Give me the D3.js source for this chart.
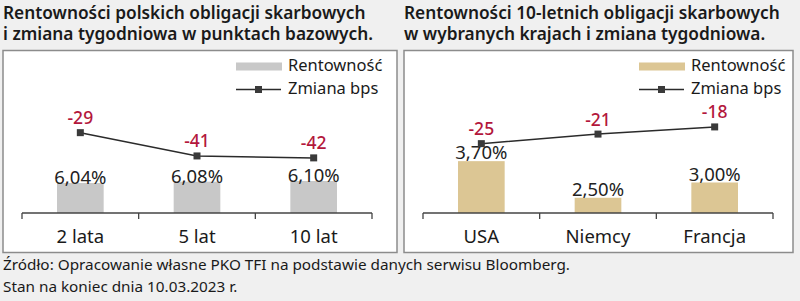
<!DOCTYPE html>
<html>
<head>
<meta charset="utf-8">
<script src="https://cdn.jsdelivr.net/npm/d3@7"></script>
<style>
  body { margin: 0; background: #f0f0f0; }
  svg { display: block; }
  text { font-family: "Noto Sans", sans-serif; }
</style>
</head>
<body>
<svg id="chart" width="800" height="301"></svg>
<script>
// data
const leftTitle = ["Rentowności polskich obligacji skarbowych", "i zmiana tygodniowa w punktach bazowych."];
const leftCats = ["2 lata", "5 lat", "10 lat"];
const leftYield = [6.04, 6.08, 6.10];
const leftChange = [-29, -41, -42];

const rightTitle = ["Rentowności 10-letnich obligacji skarbowych", "w wybranych krajach i zmiana tygodniowa."];
const rightCats = ["USA", "Niemcy", "Francja"];
const rightYield = [3.70, 2.50, 3.00];
const rightChange = [-25, -21, -18];

const legendLabels = ["Rentowność", "Zmiana bps"];
const footer = ["Źródło: Opracowanie własne PKO TFI na podstawie danych serwisu Bloomberg.",
                "Stan na koniec dnia 10.03.2023 r."];

const svg = d3.select('#chart');
const red = "#b3173c";
const fmtPct = d => d.toFixed(2).replace(".", ",") + "%";

function drawPanel(opts) {
  const g = svg.append("g").attr("transform", `translate(${opts.dx},0)`);

  g.selectAll("text.title")
    .data(opts.title)
    .enter().append("text")
    .attr("class", "title")
    .attr("x", 3)
    .attr("y", (d, i) => 18.5 + i * 21)
    .attr("font-size", 17.3)
    .attr("font-weight", 600)
    .attr("fill", "#1a1a1a")
    .text(d => d);

  g.append("rect")
    .attr("x", 3).attr("y", 50.5)
    .attr("width", opts.panelW).attr("height", 202)
    .attr("fill", "#fff")
    .attr("stroke", "#8c8c8c")
    .attr("stroke-width", 1.5);

  const x = d3.scaleBand().domain(opts.cats).range([22, 372]);
  const yBar = d3.scaleLinear().domain(opts.barDomain).range([213, 213 - 2 * opts.barPx]);
  const yLine = d3.scaleLinear().domain(opts.lineDomain).range(opts.lineRange);
  const barW = x.bandwidth() * 0.4;
  const cx = d => x(d) + x.bandwidth() / 2;

  g.selectAll("rect.bar")
    .data(opts.yields)
    .enter().append("rect")
    .attr("class", "bar")
    .attr("x", (d, i) => cx(opts.cats[i]) - barW / 2)
    .attr("y", d => yBar(d))
    .attr("width", barW)
    .attr("height", d => 213 - yBar(d))
    .attr("fill", opts.barColor);

  g.selectAll("text.val")
    .data(opts.yields)
    .enter().append("text")
    .attr("class", "val")
    .attr("x", (d, i) => cx(opts.cats[i]))
    .attr("y", d => yBar(d) - opts.valGap)
    .attr("text-anchor", "middle")
    .attr("font-size", 18.5)
    .attr("fill", "#222")
    .text(fmtPct);

  // axis: ticks on band edges
  const axisG = g.append("g").attr("transform", "translate(0,213)");
  axisG.append("line").attr("x1", 22).attr("x2", 372).attr("stroke", "#444").attr("stroke-width", 1.3);
  const edges = opts.cats.map(c => x(c)).concat([x.range()[1]]);
  axisG.selectAll("line.tick")
    .data(edges)
    .enter().append("line")
    .attr("class", "tick")
    .attr("x1", d => d).attr("x2", d => d)
    .attr("y1", 0).attr("y2", 6)
    .attr("stroke", "#444").attr("stroke-width", 1.3);
  axisG.selectAll("text")
    .data(opts.cats)
    .enter().append("text")
    .attr("x", cx)
    .attr("y", 30)
    .attr("text-anchor", "middle")
    .attr("font-size", 18.5)
    .attr("fill", "#1a1a1a")
    .text(d => d);

  const line = d3.line()
    .x((d, i) => cx(opts.cats[i]))
    .y(d => yLine(d));
  g.append("path")
    .datum(opts.changes)
    .attr("d", line)
    .attr("fill", "none")
    .attr("stroke", "#2b2b2b")
    .attr("stroke-width", 1.5);

  g.selectAll("rect.mark")
    .data(opts.changes)
    .enter().append("rect")
    .attr("class", "mark")
    .attr("x", (d, i) => cx(opts.cats[i]) - 3.5)
    .attr("y", d => yLine(d) - 3.5)
    .attr("width", 7).attr("height", 7)
    .attr("fill", "#3a3a3a");

  g.selectAll("text.chg")
    .data(opts.changes)
    .enter().append("text")
    .attr("class", "chg")
    .attr("x", (d, i) => cx(opts.cats[i]))
    .attr("y", d => yLine(d) - 8.5)
    .attr("text-anchor", "middle")
    .attr("font-size", 17.5)
    .attr("font-weight", 500)
    .attr("fill", red)
    .text(d => String(d).replace("-", "\u2011"));

  // legend
  const lg = g.append("g").attr("transform", `translate(${opts.legendX},0)`);
  lg.append("rect").attr("x", 0).attr("y", 62.5).attr("width", 46).attr("height", 8).attr("fill", opts.barColor);
  lg.append("line").attr("x1", 0).attr("x2", 45).attr("y1", 89.5).attr("y2", 89.5)
    .attr("stroke", "#2b2b2b").attr("stroke-width", 1.5);
  lg.append("rect").attr("x", 19).attr("y", 86).attr("width", 7).attr("height", 7).attr("fill", "#3a3a3a");
  lg.selectAll("text")
    .data(legendLabels)
    .enter().append("text")
    .attr("x", 52)
    .attr("y", (d, i) => 71 + i * 23)
    .attr("font-size", 16.5)
    .attr("fill", "#1a1a1a")
    .text(d => d);
}

drawPanel({
  dx: 0, panelW: 394, title: leftTitle, cats: leftCats, yields: leftYield, changes: leftChange,
  barDomain: [5.13, 7.13], barPx: 33, lineDomain: [-50, -20], lineRange: [173.4, 115.2],
  barColor: "#c8c8c8", legendX: 236, valGap: -1
});
drawPanel({
  dx: 401, panelW: 389, title: rightTitle, cats: rightCats, yields: rightYield, changes: rightChange,
  barDomain: [2, 4], barPx: 30.5, lineDomain: [-30, -10], lineRange: [155.6, 107.8],
  barColor: "#dcc694", legendX: 238, valGap: 2
});

svg.selectAll("text.foot")
  .data(footer)
  .enter().append("text")
  .attr("class", "foot")
  .attr("x", 3)
  .attr("y", (d, i) => 269.5 + i * 22.5)
  .attr("font-size", 15.3)
  .attr("fill", "#1a1a1a")
  .text(d => d);
</script>
</body>
</html>
